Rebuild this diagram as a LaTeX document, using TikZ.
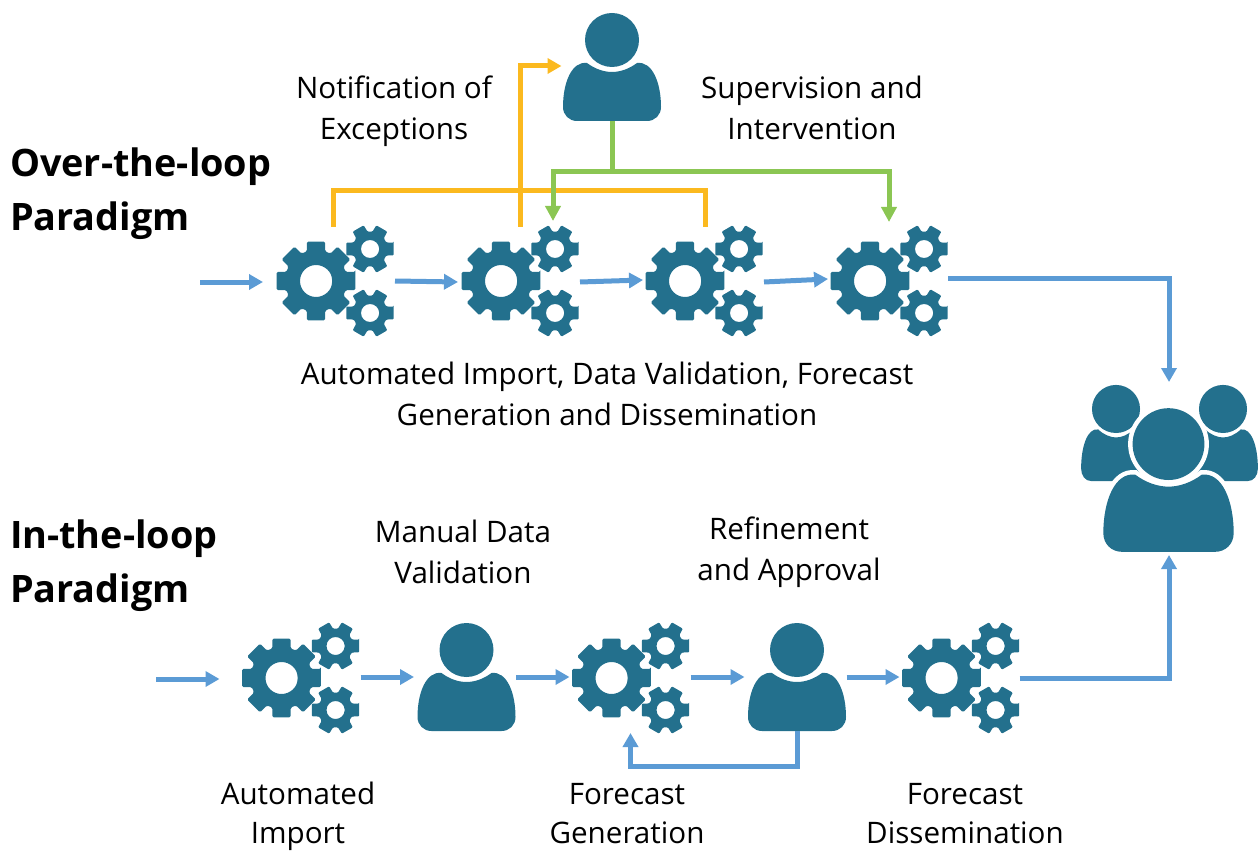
\documentclass[tikz,border=0pt]{standalone}
\usepackage{fontspec}
\setmainfont{Open Sans}
\usetikzlibrary{arrows.meta}
\definecolor{iconteal}{HTML}{23708D}
\definecolor{flowblue}{HTML}{5B9BD5}
\definecolor{excorange}{HTML}{FBB91F}
\definecolor{supgreen}{HTML}{8BC653}
\newcommand{\bodypath}{(-25,-4) .. controls (-17,2) and (-8,5) .. (0,5) .. controls (8,5) and (17,2) .. (25,-4) .. controls (40,-6) and (49,15) .. (49,40) .. controls (49,48) and (43,54) .. (35,54) -- (-35,54) .. controls (-43,54) and (-49,48) .. (-49,40) .. controls (-49,15) and (-40,-6) .. (-25,-4) -- cycle}
\tikzset{
  iconbox/.style={inner sep=0,outer sep=0,minimum width=#1},
  gearbox/.style={iconbox=118,minimum height=108},
  personbox/.style={iconbox=99,minimum height=108},
  label/.style={inner sep=0,outer sep=0,align=center,font=\fontsize{29.6}{41}\selectfont},
  title/.style={inner sep=0,outer sep=0,align=left,anchor=west,font=\fontsize{37.8}{54}\selectfont\bfseries},
  flow/.style={draw=flowblue,line width=5pt,-{Triangle[width=15pt,length=14pt]}},
  exc/.style={draw=excorange,line width=5pt},
  sup/.style={draw=supgreen,line width=5pt},
  pics/gearcluster/.style={code={
    \fill[iconteal,even odd rule,rounded corners=1.5pt] (-19,0) ++(-13:40.5)
      \foreach \a in {0,45,...,315}{ -- ([shift={(-19,0)}]\a-13:40.5) -- ([shift={(-19,0)}]\a+13:40.5) -- ([shift={(-19,0)}]\a+17:31) -- ([shift={(-19,0)}]\a+28:31) } -- cycle
      (-3,0) arc[start angle=0,end angle=360,radius=16] -- cycle;
    \foreach \yy in {-32,32}{
      \fill[iconteal,even odd rule,rounded corners=1pt] (35,\yy) ++(-15:24.5)
        \foreach \a in {0,60,...,300}{ -- ([shift={(35,\yy)}]\a-15:24.5) -- ([shift={(35,\yy)}]\a+15:24.5) -- ([shift={(35,\yy)}]\a+22:17.5) -- ([shift={(35,\yy)}]\a+38:17.5) } -- cycle
        (44,\yy) arc[start angle=0,end angle=360,radius=9] -- cycle;
    }
  }},
  pics/person/.style={code={
    \fill[iconteal] (0,-27) circle[radius=27];
    \fill[iconteal] \bodypath;
  }},
  pics/sideperson/.style={code={
    \fill[iconteal] (0,-27) circle[radius=27];
    \fill[iconteal,xscale=.8] \bodypath;
  }},
  pics/haloperson/.style={code={
    \fill[white,draw=white,line width=9pt] (0,-27) circle[radius=27];
    \fill[white,draw=white,line width=9pt] \bodypath;
    \fill[iconteal] (0,-27) circle[radius=27];
    \fill[iconteal] \bodypath;
  }}
}
\begin{document}
\begin{tikzpicture}[x=1pt,y=-1pt]
\useasboundingbox (0,0) rectangle (1258,853);
% icon holders
\node[personbox] (p1) at (612,67) {};
\node[gearbox] (g1) at (335,281) {};
\node[gearbox] (g2) at (520,281) {};
\node[gearbox] (g3) at (704,281) {};
\node[gearbox] (g4) at (889,281) {};
\node[gearbox] (g5) at (300.5,678) {};
\node[personbox] (p2) at (466.5,677) {};
\node[gearbox] (g6) at (630.5,678) {};
\node[personbox] (p3) at (797,677) {};
\node[gearbox] (g7) at (960.5,678) {};
\node[inner sep=0,outer sep=0,minimum width=178,minimum height=167] (grp) at (1169,468.5) {};
\coordinate (in1) at (200,282);
\coordinate (in2) at (156,679);
% icons
\pic at (p1) {person};
\pic at (p2) {person};
\pic at (p3) {person};
\foreach \g in {g1,g2,g3,g4,g5,g6,g7}{\pic at (\g) {gearcluster};}
\pic[scale=.89] at (1116,433) {sideperson};
\pic[scale=.89] at (1223,433) {sideperson};
\pic[scale=1.33] at (1168.5,480) {haloperson};
% orange
\draw[exc] ([xshift=-2pt]g1.north) -- ++(0,-36) -| ([xshift=1pt]g3.north);
\draw[exc,-{Triangle[width=15pt,length=14pt]}] (g2.north) |- ([xshift=-1pt,yshift=1pt]p1.west);
% green
\draw[sup,-{Triangle[width=15pt,length=15pt]}] (p1.south) |- ++(-59,51) -- ([xshift=33pt,yshift=6pt]g2.north);
\draw[sup,-{Triangle[width=15pt,length=15pt]}] (p1.south) |- ++(277,51) -- ([yshift=5pt]g4.north);
% blue over
\draw[flow] (in1) -- ([xshift=-13pt,yshift=-1pt]g1.west);
\draw[flow] ([xshift=1pt]g1.east) -- ([xshift=-3pt,yshift=-1pt]g2.west);
\draw[flow] ([xshift=1pt,yshift=-1pt]g2.east) -- ([xshift=-2pt,yshift=1pt]g3.west);
\draw[flow] ([xshift=1pt,yshift=-1pt]g3.east) -- ([xshift=-2pt,yshift=2pt]g4.west);
\draw[flow] ([yshift=3pt]g4.east) -| ([yshift=3pt]grp.north);
% blue in
\draw[flow] (in2) -- ([xshift=-22pt,yshift=-1pt]g5.west);
\draw[flow] ([xshift=1pt,yshift=1pt]g5.east) -- ([xshift=-3pt]p2.west);
\draw[flow] (p2.east) -- ([xshift=-2pt,yshift=1pt]g6.west);
\draw[flow] ([xshift=1pt,yshift=1pt]g6.east) -- ([xshift=-3pt]p3.west);
\draw[flow] (p3.east) -- ([xshift=-2pt,yshift=1pt]g7.west);
\draw[flow] (g7.east) -| ([yshift=-3pt]grp.south);
\draw[flow] (p3.south) |- ++(-83,35) -| ([yshift=-1pt]g6.south);
% text
\node[title] (t1) at (10,193) {\strut Over-the-loop\\\strut Paradigm};
\node[title] (t2) at (10,565) {\strut In-the-loop\\\strut Paradigm};
\node[label] (l1) at (394,111) {\strut Notification of\\\strut Exceptions};
\node[label] (l2) at (812,111) {\strut Supervision and\\\strut Intervention};
\node[label] (l3) at (607,397) {\strut Automated Import, Data Validation, Forecast\\\strut Generation and Dissemination};
\node[label] (l4) at (463,555) {\strut Manual Data\\\strut Validation};
\node[label] (l5) at (789,552) {\strut Refinement\\\strut and Approval};
\node[label,anchor=north] (l6) at (298,776) {\strut Automated\\[-2pt]Import};
\node[label,anchor=north] (l7) at (627,776) {\strut Forecast\\[-2pt]Generation};
\node[label,anchor=north] (l8) at (965,776) {\strut Forecast\\[-2pt]Dissemination};
\end{tikzpicture}
\end{document}
